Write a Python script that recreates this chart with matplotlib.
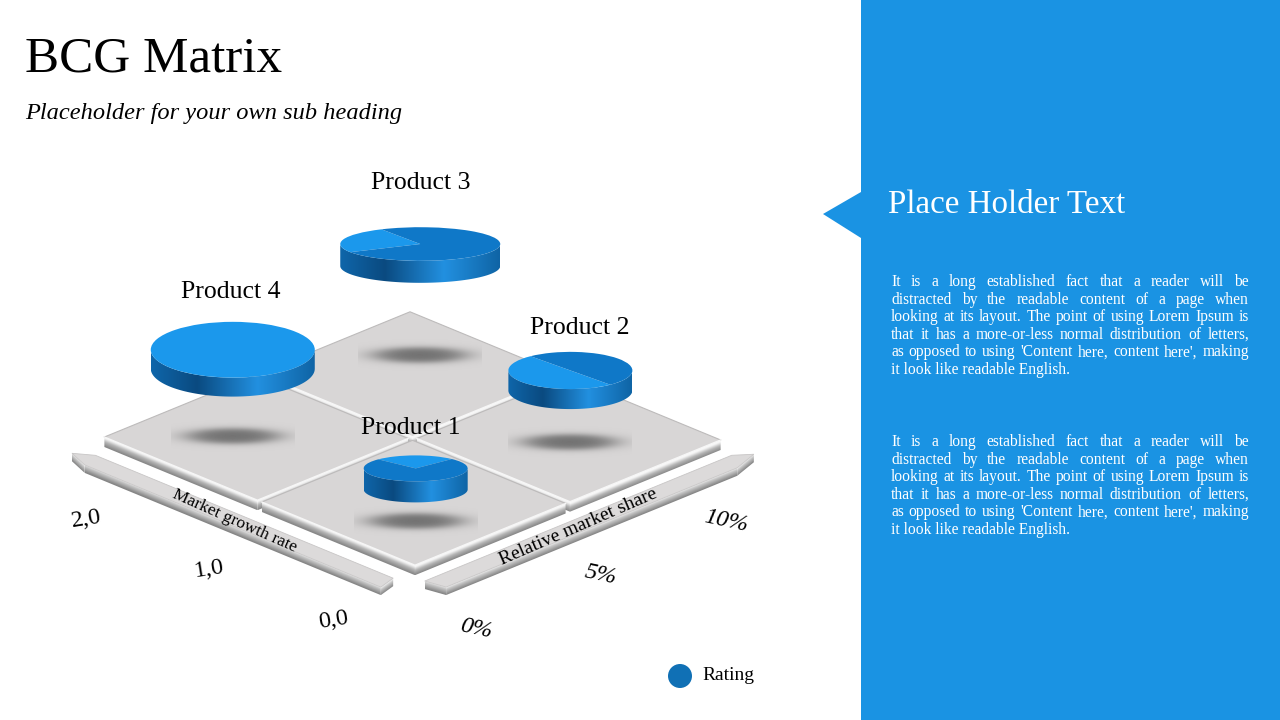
import numpy as np
import matplotlib
matplotlib.use("Agg")
import matplotlib.pyplot as plt
from matplotlib.patches import Polygon, Circle
from matplotlib.colors import LinearSegmentedColormap, to_rgb

# ---------------- data ----------------
products = ["Product 1", "Product 2", "Product 3", "Product 4"]
market_share = [1.8, 7.4, 8.4, 2.2]        # relative market share, %
growth_rate = [0.35, 0.47, 1.62, 1.59]     # market growth rate
rating = [5.2, 6.2, 8.0, 8.2]              # bubble size
light_part = [0.25, 0.50, 0.25, 1.00]      # share of light slice in each pie
share_ticks = [0, 5, 10]
share_tick_labels = ["0%", "5%", "10%"]
growth_ticks = [0.0, 1.0, 2.0]
growth_tick_labels = ["0,0", "1,0", "2,0"]
share_max, growth_max = 10.0, 2.0

title = "BCG Matrix"
subtitle = "Placeholder for your own sub heading"
panel_title = "Place Holder Text"
para_lines = [
    "It is a long established fact that a reader will be",
    "distracted by the readable content of a page when",
    "looking at its layout. The point of using Lorem Ipsum is",
    "that it has a more-or-less normal distribution of letters,",
    "as opposed to using 'Content here, content here', making",
    "it look like readable English.",
]

# ---------------- style / layout ----------------
pie_start = [46, 130, 119, 90]
ry_ratio = [0.25, 0.30, 0.21, 0.34]
side_h = [21, 20, 22, 19]
elev = [53, 72, 111, 86]
label_gap = [21, 18, 38, 24]
label_dx = [-5, 9, 0, -2]
LIGHT = "#1b98ec"
DARK = "#0f78c8"
PANEL = "#1a93e3"
TILE = "#d8d6d6"
FONT = "Liberation Serif"

W, H = 1280, 720
fig = plt.figure(figsize=(12.8, 7.2), dpi=100)
ax = fig.add_axes([0, 0, 1, 1])
ax.set_xlim(0, W)
ax.set_ylim(H, 0)
ax.axis("off")

O = np.array([415.0, 567.0])
EX = np.array([310.0, -127.0])
EY = np.array([-315.0, -130.0])


def P(u, v, drop=0.0):
    return O + u * EX + v * EY + np.array([0.0, drop])


face_cmap = LinearSegmentedColormap.from_list(
    "face", [(0, "#ffffff"), (0.2, "#f2f2f2"), (0.55, "#b4b4b4"), (1, "#888888")])
rail_cmap = LinearSegmentedColormap.from_list(
    "rail", [(0, "#f4f4f4"), (0.3, "#c8c8c8"), (1, "#858585")])
side_cmap = LinearSegmentedColormap.from_list(
    "side", [(0, "#0f66aa"), (0.28, "#0a4a80"), (0.65, "#2290e0"), (1, "#0f64a5")])


def draw_band(p0, p1, T, cmap, z):
    p0 = np.asarray(p0, float); p1 = np.asarray(p1, float)
    poly = np.array([p0, p1, p1 + [0, T], p0 + [0, T]])
    x0, x1 = poly[:, 0].min(), poly[:, 0].max()
    y0, y1 = poly[:, 1].min(), poly[:, 1].max()
    nx = max(int(x1 - x0) + 2, 2); ny = max(int(y1 - y0) * 2 + 2, 2)
    X, Y = np.meshgrid(np.linspace(x0, x1, nx), np.linspace(y0, y1, ny))
    slope = 0.0 if abs(p1[0] - p0[0]) < 1e-9 else (p1[1] - p0[1]) / (p1[0] - p0[0])
    yedge = p0[1] + (X - p0[0]) * slope
    t = np.clip((Y - yedge) / T, 0, 1)
    im = ax.imshow(cmap(t), extent=(x0, x1, y1, y0), origin="upper",
                   aspect="auto", zorder=z, interpolation="bilinear")
    im.set_clip_path(Polygon(poly, closed=True, transform=ax.transData))


# ---------------- rails ----------------
RD = 10   # rail drop
RT = 8    # rail thickness
rail_top = "#dcdada"
# left rail (growth axis)
L = [P(-0.04, 0.03, RD), P(-0.04, 0.975, RD), P(-0.07, 1.02, RD),
     P(-0.095, 0.955, RD), P(-0.095, 0.015, RD)]
draw_band(L[4], L[3], RT, rail_cmap, 1)
draw_band(L[3], L[2], RT, rail_cmap, 1)
draw_band(L[0], L[4], RT, rail_cmap, 1)
ax.add_patch(Polygon(np.array(L), closed=True, facecolor=rail_top,
                     edgecolor="#c8c6c6", lw=0.6, zorder=1.5))
# right rail (share axis)
R = [P(0.0, -0.031, RD), P(0.99, -0.031, RD), P(1.03, -0.062, RD),
     P(0.95, -0.088, RD), P(0.011, -0.088, RD)]
draw_band(R[4], R[3], RT, rail_cmap, 1)
draw_band(R[3], R[2], RT, rail_cmap, 1)
draw_band(R[0], R[4], RT, rail_cmap, 1)
ax.add_patch(Polygon(np.array(R), closed=True, facecolor=rail_top,
                     edgecolor="#c8c6c6", lw=0.6, zorder=1.5))

# ---------------- tiles ----------------
g = 0.007
TT = 10
tiles = [(0.5, 1.0, 0.5, 1.0), (0.5, 1.0, 0.0, 0.5), (0.0, 0.5, 0.5, 1.0), (0.0, 0.5, 0.0, 0.5)]
for i, (u0, u1, v0, v1) in enumerate(tiles):
    u0g, u1g, v0g, v1g = u0 + g, u1 - g, v0 + g, v1 - g
    z = 2 + i * 0.1
    draw_band(P(u0g, v0g), P(u1g, v0g), TT, face_cmap, z)
    draw_band(P(u0g, v0g), P(u0g, v1g), TT, face_cmap, z)
    top = np.array([P(u0g, v0g), P(u1g, v0g), P(u1g, v1g), P(u0g, v1g)])
    ax.add_patch(Polygon(top, closed=True, facecolor=TILE, edgecolor="none",
                         zorder=z + 0.05))
    back = np.array([P(u1g, v0g), P(u1g, v1g), P(u0g, v1g)])
    ax.plot(back[:, 0], back[:, 1], color="#bdbbbb", lw=0.8, zorder=z + 0.06)
    front = np.array([P(u1g, v0g), P(u0g, v0g), P(u0g, v1g)])
    ax.plot(front[:, 0], front[:, 1], color="#f6f6f6", lw=1.0, zorder=z + 0.06)

# ---------------- shadows ----------------
sx = np.linspace(-62, 62, 125)
sy = np.linspace(-16, 16, 65)
SX, SY = np.meshgrid(sx, sy)
r = np.sqrt((SX / 44.0) ** 2 + (SY / 7.5) ** 2)
alpha = 0.85 / (1 + np.exp((r - 1) / 0.22))
shadow = np.zeros(SX.shape + (4,))
shadow[..., :3] = to_rgb("#606060")
shadow[..., 3] = alpha

for k in range(len(products)):
    u = market_share[k] / share_max
    v = growth_rate[k] / growth_max
    c = P(u, v)
    ax.imshow(shadow, extent=(c[0] - 62, c[0] + 62, c[1] + 16, c[1] - 16),
              origin="upper", aspect="auto", zorder=3, interpolation="bilinear")

# ---------------- cylinders ----------------
for k, name in enumerate(products):
    u = market_share[k] / share_max
    v = growth_rate[k] / growth_max
    base = P(u, v)
    cx, cy = base[0], base[1] - elev[k]
    rx = rating[k] * 10.0
    ry = rx * ry_ratio[k]
    h = side_h[k]
    t = np.linspace(np.pi, 2 * np.pi, 90)
    topa = np.c_[cx + rx * np.cos(t), cy - ry * np.sin(t)]
    bota = np.c_[cx + rx * np.cos(t[::-1]), cy + h - ry * np.sin(t[::-1])]
    poly = np.vstack([topa, bota])
    grad = np.linspace(0, 1, 256)[None, :]
    im = ax.imshow(side_cmap(grad), extent=(cx - rx, cx + rx, cy + ry + h + 1, cy - 1),
                   origin="upper", aspect="auto", zorder=5, interpolation="bilinear")
    im.set_clip_path(Polygon(poly, closed=True, transform=ax.transData))
    # top face as a pie on a squashed inset axes
    pax = fig.add_axes([(cx - rx) / W, 1 - (cy + ry) / H, 2 * rx / W, 2 * ry / H])
    pax.pie([light_part[k], 1 - light_part[k]], colors=[LIGHT, DARK],
            startangle=pie_start[k], counterclock=True,
            wedgeprops=dict(linewidth=0), radius=1.0)
    pax.set_xlim(-1, 1); pax.set_ylim(-1, 1)
    pax.set_aspect("auto")
    pax.axis("off")
    ax.text(cx + label_dx[k], cy - ry - label_gap[k], name, ha="center", va="baseline",
            fontsize=18.5, family=FONT, color="black", zorder=6)

# ---------------- axis labels ----------------
ax.text(235, 521, "Market growth rate", rotation=-24, rotation_mode="anchor",
        ha="center", va="center", fontsize=12.5, family=FONT, zorder=6)
ax.text(578, 527, "Relative market share", rotation=23.5, rotation_mode="anchor",
        ha="center", va="center", fontsize=14, family=FONT, zorder=6)

g0 = np.array([333.0, 620.0]); gd = np.array([-247.0, -101.0])
for val, lab in zip(growth_ticks, growth_tick_labels):
    p = g0 + (val / growth_max) * gd
    ax.text(p[0], p[1], lab, ha="center", va="center", rotation=9,
            fontsize=17.5, family=FONT, zorder=6)
s0 = np.array([476.0, 629.0]); sd = np.array([250.0, -108.0])
for val, lab in zip(share_ticks, share_tick_labels):
    p = s0 + (val / share_max) * sd
    ax.text(p[0], p[1], lab, ha="center", va="center", rotation=-12,
            style="italic", fontsize=17.5, family=FONT, zorder=6)

# ---------------- legend ----------------
ax.add_patch(Circle((680, 676), 12, facecolor="#1070b5", edgecolor="none", zorder=6))
ax.text(702, 676, "Rating", ha="left", va="center", fontsize=14, family=FONT, zorder=6)

# ---------------- titles ----------------
ax.text(25, 72, title, ha="left", va="baseline", fontsize=36.8, family=FONT)
ax.text(25, 119, subtitle, ha="left", va="baseline", fontsize=17.6, style="italic", family=FONT)

# ---------------- right panel ----------------
ax.add_patch(Polygon([[861, 0], [W, 0], [W, H], [861, H]], closed=True,
                     facecolor=PANEL, edgecolor="none", zorder=0.5))
ax.add_patch(Polygon([[823, 214], [861, 192], [861, 238]], closed=True,
                     facecolor=PANEL, edgecolor="none", zorder=0.5))
ax.text(888, 213, panel_title, ha="left", va="baseline", fontsize=23.8,
        family=FONT, color="white")

renderer = fig.canvas.get_renderer()


def justified(lines, x0, x1, y0, lh, fs):
    for i, line in enumerate(lines):
        y = y0 + i * lh
        if i == len(lines) - 1:
            ax.text(x0, y, line, ha="left", va="baseline", fontsize=fs,
                    family=FONT, color="white")
            continue
        words = line.split(" ")
        ts = [ax.text(0, y, w_, ha="left", va="baseline", fontsize=fs,
                      family=FONT, color="white") for w_ in words]
        widths = [t_.get_window_extent(renderer).width for t_ in ts]
        gap = (x1 - x0 - sum(widths)) / (len(words) - 1)
        x = x0
        for t_, w_ in zip(ts, widths):
            t_.set_x(x)
            x += w_ + gap


justified(para_lines, 891, 1249, 286, 17.6, 11.2)
justified(para_lines, 891, 1249, 446, 17.6, 11.2)

fig.savefig("out.png", dpi=100)
